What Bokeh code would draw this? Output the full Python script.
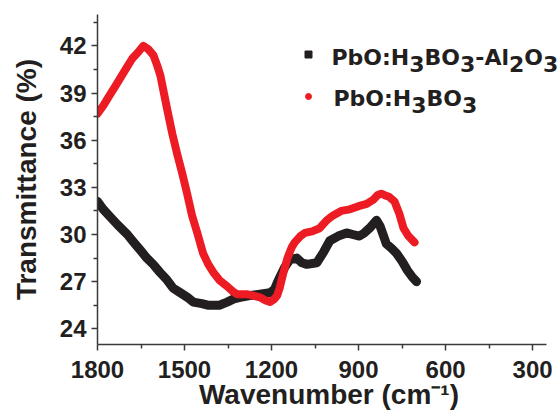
from bokeh.plotting import figure
from bokeh.models import Range1d, FixedTicker, Label
from bokeh.embed import file_html
from bokeh.resources import INLINE

# Wavenumber (cm-1) and transmittance (%)
red_wn = [1800, 1780, 1760, 1740, 1720, 1700, 1680, 1660, 1642, 1625, 1607, 1595, 1583,
          1570, 1559, 1542, 1525, 1508, 1491, 1474, 1456, 1436, 1418, 1401, 1380, 1353,
          1335, 1319, 1300, 1285, 1260, 1240, 1220, 1205, 1190, 1181, 1172, 1160, 1145,
          1130, 1120, 1100, 1085, 1060, 1034, 1010, 989, 960, 930, 900, 872, 850, 835,
          822, 810, 795, 776, 759, 745, 728, 707]
red_t = [37.7, 38.2, 38.8, 39.4, 40.0, 40.6, 41.2, 41.6, 42.0, 41.8, 41.4, 40.8, 40.1,
         38.9, 37.9, 36.4, 35.1, 33.9, 32.6, 31.2, 30.1, 28.8, 28.1, 27.6, 27.1, 26.7,
         26.4, 26.2, 26.2, 26.2, 26.1, 26.0, 25.8, 25.7, 25.9, 26.1, 26.6, 27.5, 28.5,
         29.2, 29.5, 29.9, 30.1, 30.2, 30.4, 30.9, 31.2, 31.5, 31.6, 31.8, 31.95, 32.2, 32.5,
         32.6, 32.5, 32.4, 32.1, 31.3, 30.4, 29.9, 29.5]

black_wn = [1800, 1780, 1755, 1730, 1697, 1675, 1652, 1630, 1608, 1585, 1560, 1540, 1515,
            1490, 1470, 1440, 1420, 1401, 1380, 1353, 1330, 1308, 1280, 1240, 1205, 1190,
            1181, 1171, 1155, 1137, 1113, 1095, 1078, 1044, 1020, 999, 970, 941, 920, 897,
            880, 862, 838, 825, 804, 785, 769, 750, 731, 715, 700]
black_t = [32.1, 31.6, 31.1, 30.6, 30.0, 29.5, 29.0, 28.5, 28.1, 27.6, 27.1, 26.6, 26.3,
           26.0, 25.7, 25.6, 25.5, 25.5, 25.5, 25.7, 25.9, 26.0, 26.1, 26.2, 26.3, 26.5,
           26.9, 27.3, 27.9, 28.4, 28.5, 28.2, 28.1, 28.2, 28.9, 29.6, 29.9, 30.1, 30.0, 29.9,
           30.1, 30.4, 30.9, 30.5, 29.4, 29.1, 28.8, 28.3, 27.7, 27.3, 27.0]

x_ticks = [1800, 1500, 1200, 900, 600, 300]
x_minor = [1650, 1350, 1050, 750, 450]
y_ticks = [24, 27, 30, 33, 36, 39, 42]
y_minor = [25.5, 28.5, 31.5, 34.5, 37.5, 40.5, 43.5]

# legend labels as (text, is_subscript) pieces
label_black = [("PbO:H", False), ("3", True), ("BO", False), ("3", True),
               ("-Al", False), ("2", True), ("O", False), ("3", True)]
label_red = [("PbO:H", False), ("3", True), ("BO", False), ("3", True)]

RED = "#ED1C24"
BLACK = "#231F20"
AXC = "#3a3a3a"
FONT = "Liberation Sans"
LFONT = "DejaVu Sans"

W, H = 560, 414
L, T, B = 97, 14, 70
AX_RIGHT = 546            # where the drawn x axis ends (pixels)
X0, X1 = 1800, 252        # axis span
FW, FH = W - L, H - T - B
x_end = X0 - (X0 - X1) * FW / (AX_RIGHT - L)

p = figure(width=W, height=H, output_backend="svg", toolbar_location=None,
           x_range=Range1d(X0, x_end), y_range=Range1d(23, 44),
           min_border_left=L, min_border_right=0, min_border_top=T, min_border_bottom=B)
p.outline_line_color = None
p.xgrid.visible = False
p.ygrid.visible = False
p.background_fill_color = "white"
p.border_fill_color = "white"
# pixel-space ranges used only to place the legend keys
p.extra_x_ranges = {"px": Range1d(0, FW)}
p.extra_y_ranges = {"py": Range1d(FH, 0)}

p.line(black_wn, black_t, line_color=BLACK, line_width=9, line_join="round", line_cap="round")
p.line(red_wn, red_t, line_color=RED, line_width=8, line_join="round", line_cap="round")

for ax in (p.xaxis[0], p.yaxis[0]):
    ax.axis_line_color = AXC
    ax.axis_line_width = 1.5
    ax.major_tick_line_color = AXC
    ax.minor_tick_line_color = AXC
    ax.major_tick_line_width = 1.5
    ax.minor_tick_line_width = 1.5
    ax.major_tick_in = 0
    ax.major_tick_out = 6
    ax.minor_tick_in = 0
    ax.minor_tick_out = 4
    ax.major_label_text_font = FONT
    ax.major_label_text_font_style = "bold"
    ax.major_label_text_font_size = "24px"
    ax.major_label_text_color = BLACK
    ax.axis_label_text_font = FONT
    ax.axis_label_text_font_style = "bold"
    ax.axis_label_text_font_size = "28px"
    ax.axis_label_text_color = BLACK

p.xaxis.bounds = (X0, X1)
p.xaxis.ticker = FixedTicker(ticks=x_ticks, minor_ticks=x_minor)
p.yaxis.ticker = FixedTicker(ticks=y_ticks, minor_ticks=y_minor)
p.xaxis.axis_label = "Wavenumber (cm\u207B\u00B9)"
p.yaxis.axis_label = "Transmittance (%)"
p.xaxis.major_label_standoff = 10
p.yaxis.major_label_standoff = 5
p.xaxis.axis_label_standoff = -2
p.yaxis.axis_label_standoff = 15

# legend keys (pixel positions within the frame, from the top-left)
p.scatter(x=[308 - L], y=[54 - T], marker="square", size=7, color=BLACK,
          x_range_name="px", y_range_name="py")
p.scatter(x=[308 - L], y=[96 - T], marker="circle", size=6, color=RED,
          x_range_name="px", y_range_name="py")

ADV = {"P": .733, "b": .716, "O": .850, ":": .399, "H": .837, "B": .762,
       "-": .415, "A": .774, "l": .343, "2": .696, "3": .696}


def add_formula(parts, x0, base, size=22, drop=6.5):
    x = x0
    for txt, sub in parts:
        yb = base + (drop if sub else 0)
        p.add_layout(Label(x=x - L, y=(H - B) - yb, x_units="screen", y_units="screen",
                           text=txt, text_font=LFONT, text_font_style="bold",
                           text_font_size=f"{size}px", text_color=BLACK,
                           text_baseline="alphabetic", text_align="left"))
        x += sum(ADV[c] for c in txt) * size


add_formula(label_black, 331, 56.5)
add_formula(label_red, 333, 97.5)

open("out.html", "w").write(file_html(p, INLINE))
